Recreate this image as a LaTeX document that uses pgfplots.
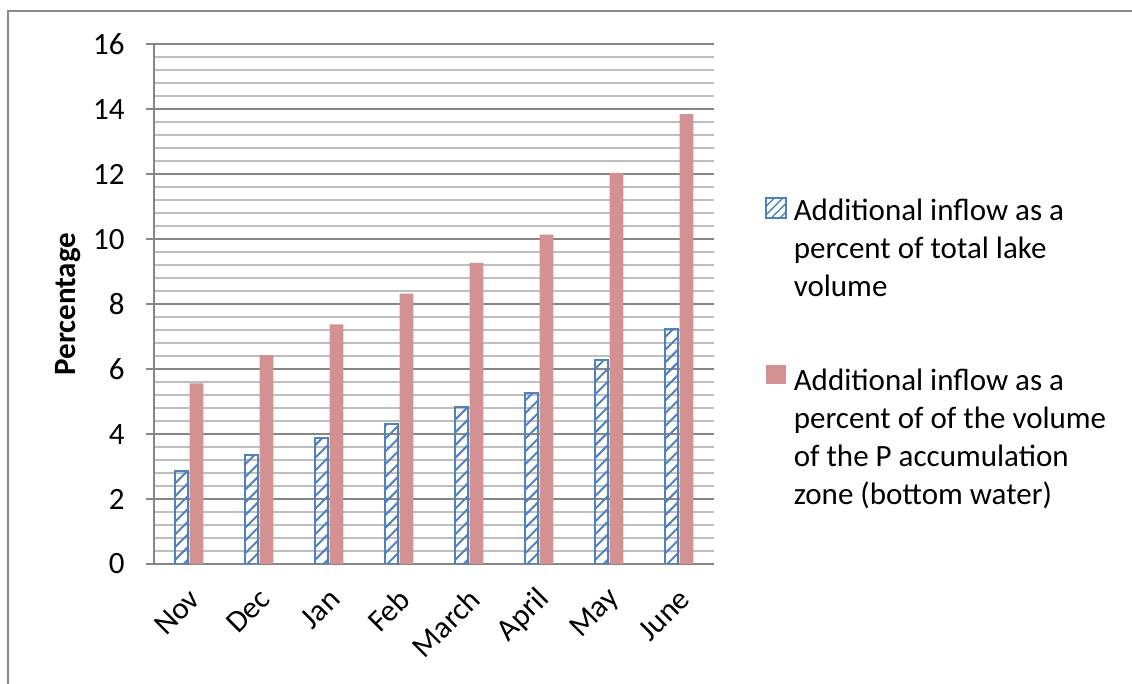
\documentclass[border=0pt]{standalone}
\usepackage{pgfplots}
\pgfplotsset{compat=1.18}
\usepackage{fontspec}
\setmainfont{Carlito}
\usetikzlibrary{patterns.meta}
\definecolor{barblue}{RGB}{79,129,189}
\definecolor{barred}{RGB}{212,145,145}
\definecolor{gridmajor}{RGB}{134,134,134}
\definecolor{gridminor}{RGB}{190,190,190}
\definecolor{framegray}{RGB}{140,140,140}
\newcommand{\cfont}{\fontsize{15.5}{19}\selectfont}
\begin{document}
\begin{tikzpicture}
\useasboundingbox (0pt,0pt) rectangle (566pt,342pt);
\draw[framegray, line width=1pt] (4pt,-5pt) -- (4pt,336.5pt) -- (570pt,336.5pt);
\begin{axis}[
  at={(77pt,60pt)}, anchor=south west,
  scale only axis, width=280pt, height=259.85pt,
  xmin=-0.5, xmax=7.5, ymin=0, ymax=16,
  xtick={0,...,7},
  xticklabels={Nov,Dec,Jan,Feb,March,April,May,June},
  ytick={0,2,...,16},
  minor y tick num=4,
  ymajorgrids, yminorgrids,
  major grid style={color=gridmajor, line width=1pt},
  minor grid style={color=gridminor, line width=1pt},
  axis x line*=bottom, axis y line*=left,
  axis line style={color=gridmajor, line width=1pt},
  tick align=outside,
  major tick length=4pt,
  minor tick length=0pt,
  ytick style={color=gridmajor, line width=1pt},
  xtick style={draw=none},
  /pgf/number format/assume math mode=true,
  yticklabel style={font=\cfont, inner sep=0pt, xshift=-10.5pt},
  xticklabel style={font=\cfont, xshift=3pt, rotate=45, anchor=east, inner sep=0pt},
  xticklabel shift=11pt,
  ylabel={\textbf{Percentage}},
  ylabel style={font=\cfont, at={(axis description cs:-0.1536,0.5)}, anchor=center},
  ybar=0.7pt, bar width=6.8pt,
  legend cell align=left,
  legend style={draw=none, fill=none, font=\cfont, at={(axis description cs:1.0911,0.7062)}, anchor=north west,
    cells={align=left}, inner sep=0pt, nodes={inner sep=0pt}, column sep=3.5pt, row sep=33pt},
]
\addplot[draw=barblue, line width=1pt, pattern={Lines[angle=45, distance=4.5pt, line width=1pt]}, pattern color=barblue,
  legend image code/.code={\draw[draw=barblue, line width=0.8pt, pattern={Lines[angle=45, distance=3pt, line width=0.7pt]}, pattern color=barblue] (0pt,15.5pt) rectangle (10pt,25.5pt);}]
  coordinates {(0,2.86) (1,3.37) (2,3.87) (3,4.31) (4,4.84) (5,5.27) (6,6.28) (7,7.22)};
\addlegendentry{Additional inflow as a\\percent of total lake\\volume}
\addplot[draw=none, fill=barred,
  legend image code/.code={\fill[barred] (0pt,27pt) rectangle (10pt,36.5pt);}]
  coordinates {(0,5.56) (1,6.43) (2,7.38) (3,8.32) (4,9.27) (5,10.14) (6,12.04) (7,13.85)};
\addlegendentry{Additional inflow as a\\percent of of the volume\\of the P accumulation\\zone (bottom water)}
\end{axis}
\end{tikzpicture}
\end{document}
